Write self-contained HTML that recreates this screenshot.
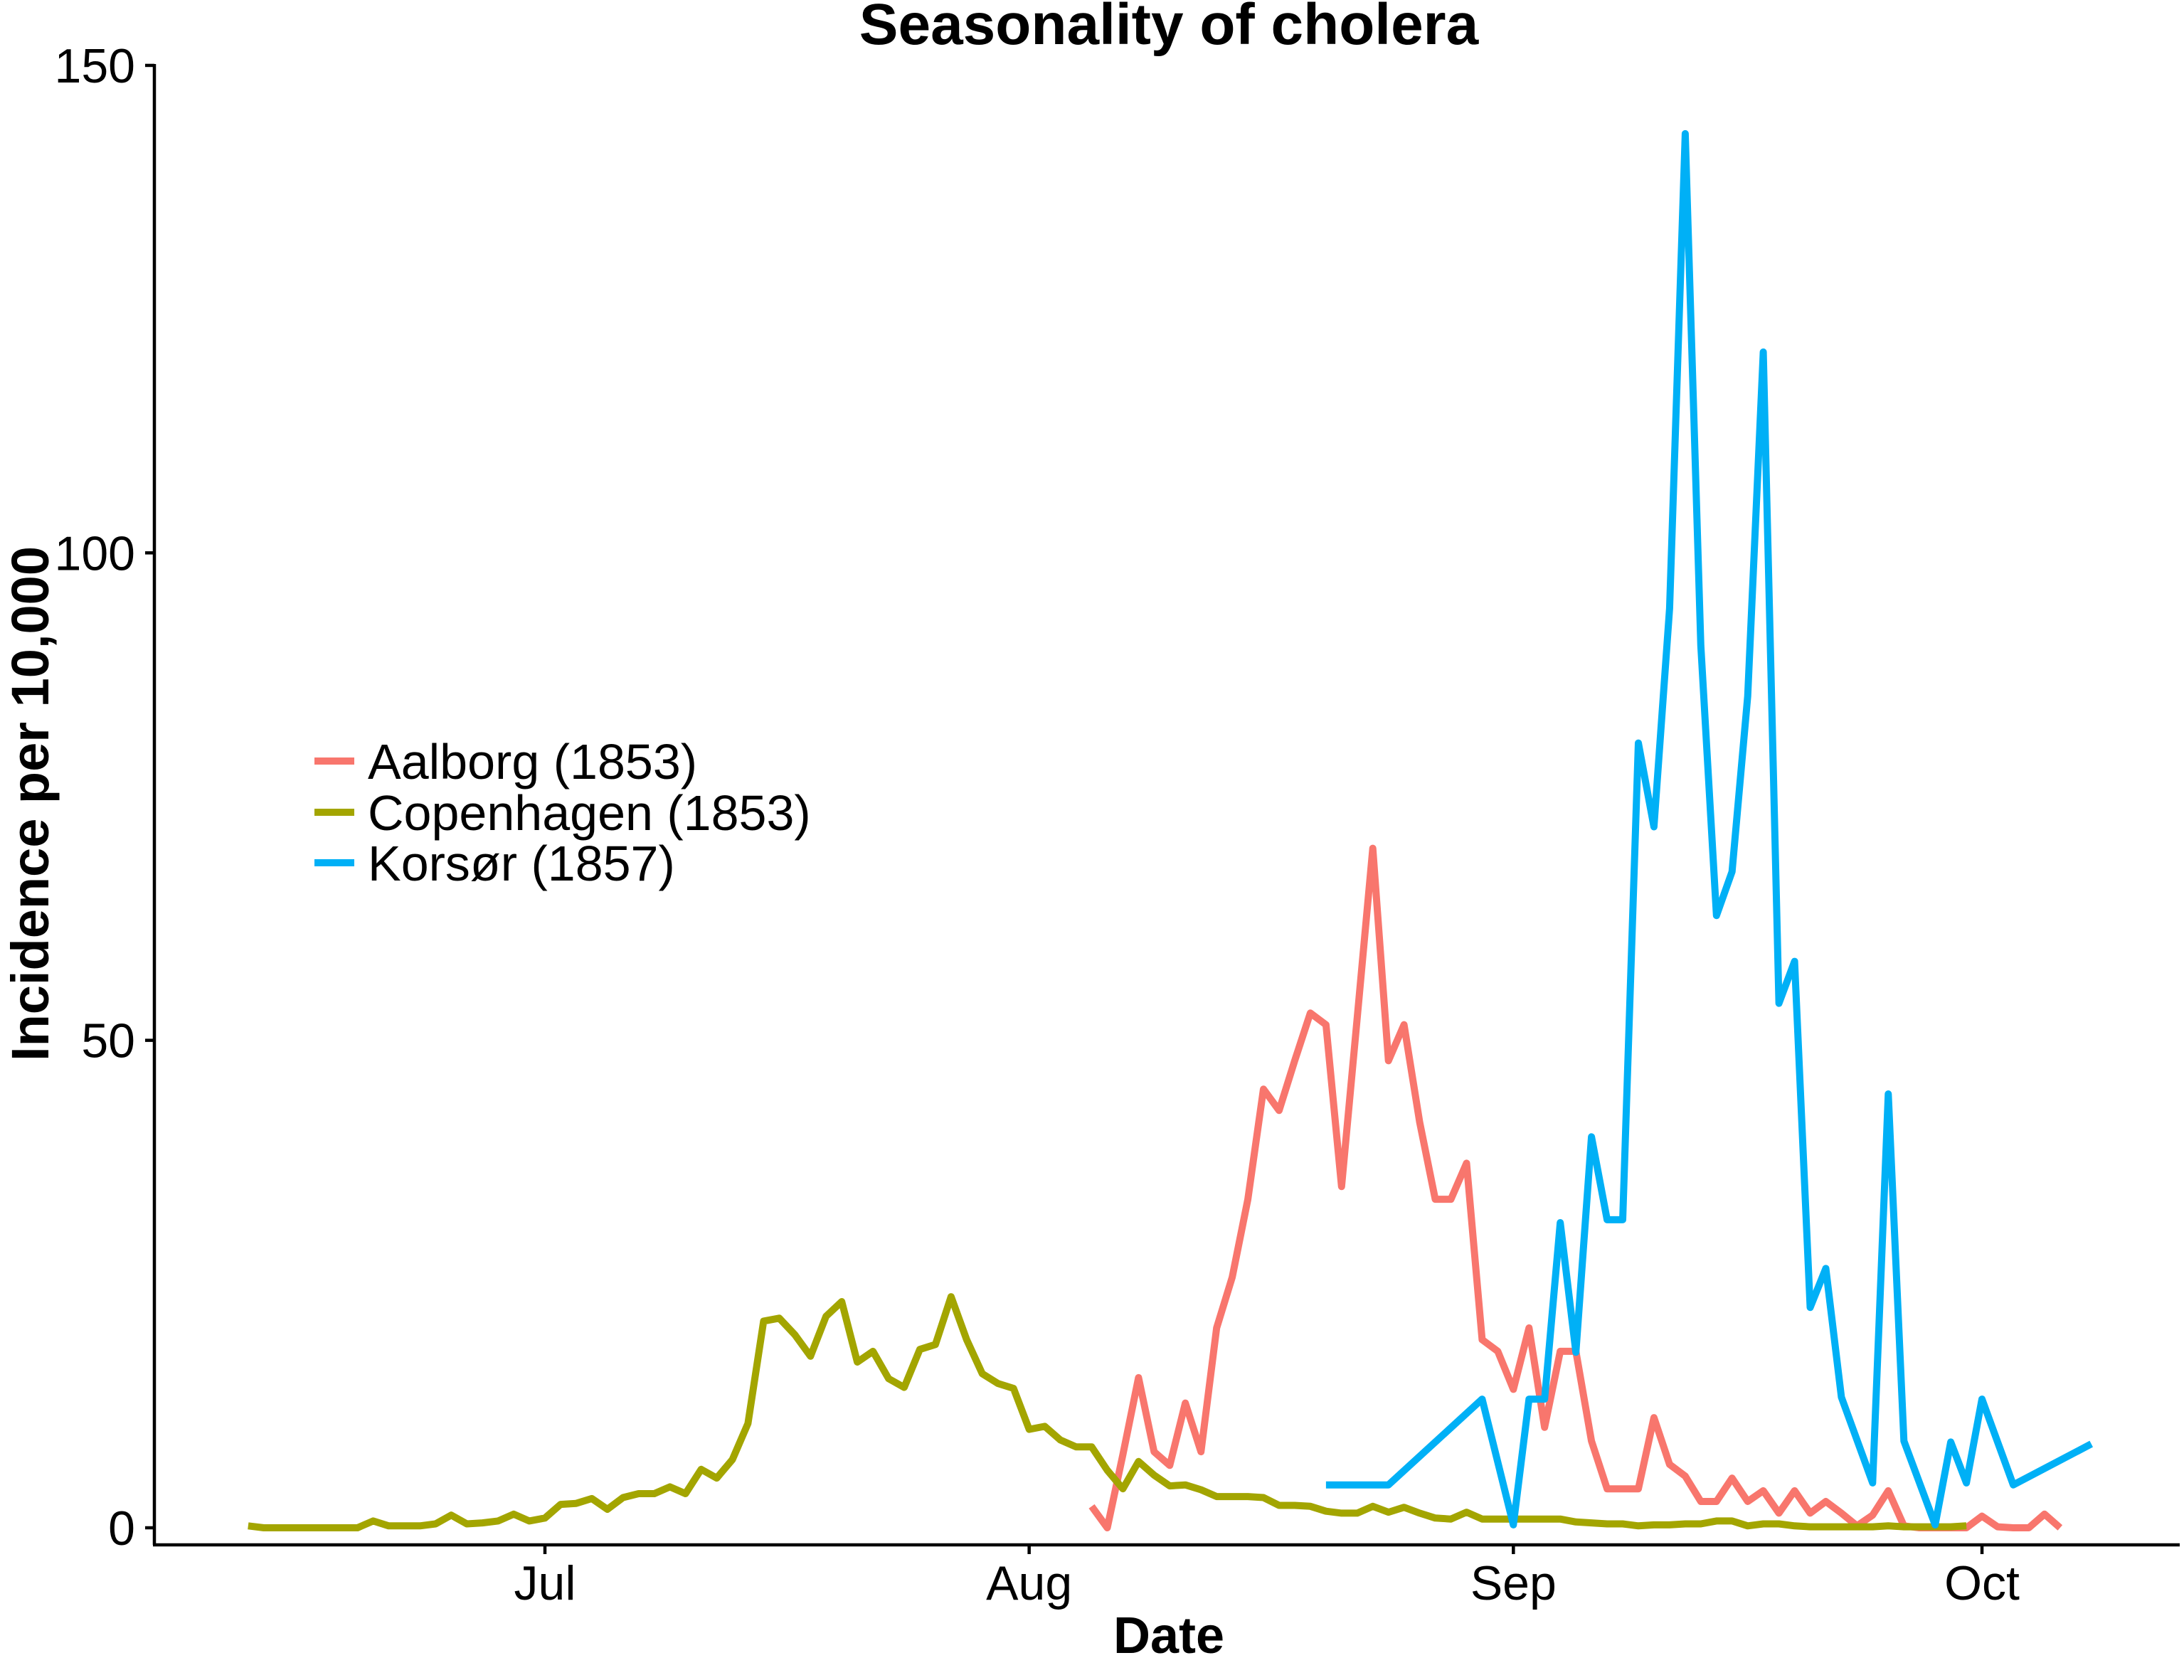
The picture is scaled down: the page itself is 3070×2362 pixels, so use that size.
<!DOCTYPE html>
<html><head><meta charset="utf-8"><style>
html,body{margin:0;padding:0;background:#fff;}
svg{display:block;font-family:"Liberation Sans",Arial,sans-serif;}
</style></head><body>
<svg id="chart" width="3070" height="2362" viewBox="0 0 3070 2362" xmlns="http://www.w3.org/2000/svg">
<rect width="3070" height="2362" fill="#fff"/>
<text x="1643" y="62" font-size="82" font-weight="bold" text-anchor="middle">Seasonality of cholera</text>
<text transform="translate(68,1130) rotate(-90)" font-size="74" font-weight="bold" text-anchor="middle">Incidence per 10,000</text>
<text x="1643" y="2324" font-size="72" font-weight="bold" text-anchor="middle">Date</text>
<g id="axes"></g>
<g id="series"></g>
<g>
  <line x1="442" y1="1070" x2="498" y2="1070" stroke="#F8766D" stroke-width="10"/>
  <text x="517" y="1095" font-size="70">Aalborg (1853)</text>
  <line x1="442" y1="1142" x2="498" y2="1142" stroke="#A3A500" stroke-width="10"/>
  <text x="517" y="1167" font-size="70">Copenhagen (1853)</text>
  <line x1="442" y1="1213" x2="498" y2="1213" stroke="#00B0F6" stroke-width="10"/>
  <text x="517" y="1238" font-size="70">Korsør (1857)</text>
</g>
</svg>
<script>
// Day index = days since June 1 (Jul 1 = 30, Aug 1 = 61, Sep 1 = 92, Oct 1 = 122)
const yTicks = [0, 50, 100, 150];
const xTickDays = [30, 61, 92, 122];
const xTickLabels = ["Jul", "Aug", "Sep", "Oct"];
const copenhagenStart = 11;
const copenhagenValues = [0.2,0,0,0,0,0,0,0,0.7,0.2,0.2,0.2,0.4,1.3,0.4,0.5,0.7,1.4,0.7,1.0,2.4,2.5,3.0,1.9,3.1,3.5,3.5,4.2,3.5,6.0,5.1,7.0,10.7,21.2,21.5,19.8,17.6,21.7,23.2,17.0,18.1,15.3,14.4,18.3,18.8,23.7,19.3,15.8,14.8,14.3,10.1,10.4,9.0,8.3,8.3,5.9,4.0,6.8,5.4,4.3,4.4,3.9,3.2,3.2,3.2,3.1,2.3,2.3,2.2,1.7,1.5,1.5,2.2,1.6,2.1,1.5,1.0,0.9,1.6,0.9,0.9,0.9,0.9,0.9,0.9,0.6,0.5,0.4,0.4,0.2,0.3,0.3,0.4,0.4,0.7,0.7,0.2,0.4,0.4,0.2,0.1,0.1,0.1,0.1,0.1,0.2,0.1,0.1,0.1,0.1,0.2];
const aalborgStart = 65;
const aalborgValues = [2.2,0,7.5,15.4,7.8,6.4,12.8,7.8,20.5,25.7,33.7,45.0,42.8,47.9,52.8,51.6,35.0,52.3,69.7,47.9,51.6,41.6,33.7,33.7,37.4,19.3,18.1,14.2,20.5,10.3,18.1,18.1,8.9,4.0,4.0,4.0,11.3,6.5,5.3,2.7,2.7,5.1,2.7,3.8,1.5,3.8,1.5,2.7,1.5,0.2,1.3,3.8,0.2,0,0,0,0,1.2,0.1,0,0,1.4,0];
const korsorDays = [80,84,90,92,93,94,95,96,97,98,99,100,101,102,103,104,105,106,107,108,109,110,111,112,113,115,116,117,119,120,121,122,124,129];
const korsorValues = [4.4,4.4,13.2,0.3,13.2,13.2,31.3,18.0,40.1,31.6,31.6,80.5,71.9,94.3,143.0,90.5,62.8,67.3,85.3,120.6,53.8,58.1,22.6,26.6,13.4,4.6,44.5,8.9,0.3,8.8,4.6,13.2,4.4,8.6];

const NS = "http://www.w3.org/2000/svg";
function xScale(d){ return 766 + (d - 30) * 21.957; }
function yScale(v){ return 2148 - v * 13.707; }

const axes = document.getElementById("axes");
function mk(tag, attrs, parent){
  const el = document.createElementNS(NS, tag);
  for (const k in attrs) el.setAttribute(k, attrs[k]);
  parent.appendChild(el);
  return el;
}
const yAxis = mk("line", {x1:217, y1:yScale(150)-2, x2:217, y2:2172, stroke:"#000", "stroke-width":4.5}, axes);


const xAxis = mk("line", {x1:215, y1:2172, x2:3064, y2:2172, stroke:"#000", "stroke-width":4.5}, axes);



yTicks.forEach(function(t){
  const y = yScale(t);
  const tk = mk("line", {x1:204, y1:y, x2:217, y2:y, stroke:"#000", "stroke-width":4.5}, axes);
  
  
  const lb = mk("text", {x:190, y:y+24, "font-size":68, "text-anchor":"end"}, axes);
  lb.textContent = String(t);
  
  
});
xTickDays.forEach(function(d, i){
  const x = xScale(d);
  const tk = mk("line", {x1:x, y1:2172, x2:x, y2:2185, stroke:"#000", "stroke-width":4.5}, axes);
  
  
  const lb = mk("text", {x:x, y:2249, "font-size":68, "text-anchor":"middle"}, axes);
  lb.textContent = xTickLabels[i];
  
  
});

const series = document.getElementById("series");
function drawLine(days, vals, color, name){
  const pts = days.map(function(d, i){ return xScale(d).toFixed(1) + "," + yScale(vals[i]).toFixed(1); }).join(" ");
  const pl = mk("polyline", {points:pts, fill:"none", stroke:color, "stroke-width":10, "stroke-linejoin":"round", "stroke-linecap":"butt"}, series);
  
  
}
const cDays = copenhagenValues.map(function(_, i){ return copenhagenStart + i; });
const aDays = aalborgValues.map(function(_, i){ return aalborgStart + i; });
drawLine(aDays, aalborgValues, "#F8766D", "aalborg-line");
drawLine(cDays, copenhagenValues, "#A3A500", "copenhagen-line");
drawLine(korsorDays, korsorValues, "#00B0F6", "korsor-line");
</script>
</body></html>
